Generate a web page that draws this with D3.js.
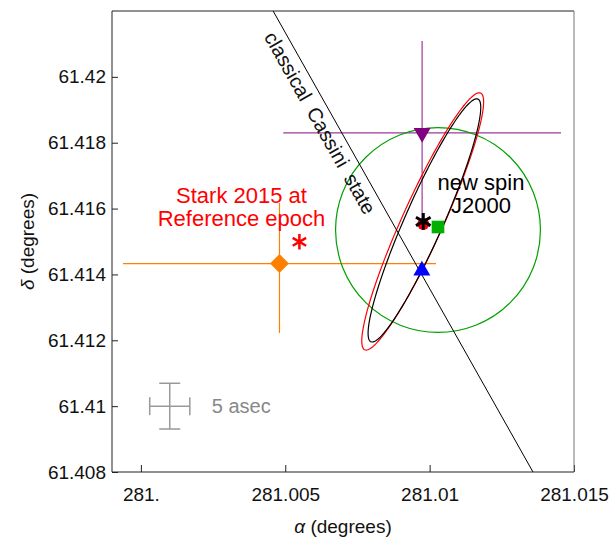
<!DOCTYPE html>
<html>
<head>
<meta charset="utf-8">
<script src="https://cdn.jsdelivr.net/npm/d3@7"></script>
<style>
    body { margin: 0; background: #fff; }
    svg { display: block; font-family: "Liberation Sans", Arial, sans-serif; }
</style>
</head>
<body>
<svg id="chart" width="611" height="543"></svg>
<script>
// axis ticks
const xTicks = [281, 281.005, 281.01, 281.015];
const xTickLabels = ["281.", "281.005", "281.01", "281.015"];
const yTicks = [61.408, 61.41, 61.412, 61.414, 61.416, 61.418, 61.42];
const yTickLabels = ["61.408", "61.41", "61.412", "61.414", "61.416", "61.418", "61.42"];

// classical Cassini state line (ra, dec end points)
const cassiniLine = [[281.00458, 61.422], [281.01358, 61.408]];

// points with error bars: [ra, dec], errors in degrees
const orangePoint = [281.0048, 61.41433];
const orangeErrRa = [0.00542, 0.00542];
const orangeErrDec = [0.00211, 0.00184]; // down, up

const purplePoint = [281.00974, 61.4183];
const purpleErrRa = [0.00481, 0.00481];
const purpleErrDec = [0.00279, 0.00279];

// single markers
const starkPoint = [281.00549, 61.41499];
const bluePoint = [281.00973, 61.41412];
const newSpinPoint = [281.00978, 61.41561];
const redDotPoint = [281.00978, 61.41553];
const greenPoint = [281.01029, 61.41544];

// green uncertainty circle: center + radius in arcsec
const greenCircle = [281.01029, 61.41535, 11.2];

// uncertainty ellipses: ra, dec, semi-major (asec), semi-minor (asec), tilt (deg)
const blackEllipse = [281.00982, 61.41564, 14.5, 2.1, 66.2];
const redEllipse = [281.00976, 61.41561, 15.4, 2.25, 65.7];

// 5 arcsec scale cross
const scaleCross = [281.001, 61.41];
const scaleHalf = 2.5 / 3600;

const W = 611, H = 543;
const mLeft = 112, mRight = 574, mTop = 11, mBottom = 472;

const svg = d3.select("#chart");

const x = d3.scaleLinear().domain([280.999, 281.015]).range([mLeft, mRight]);
const y = d3.scaleLinear().domain([61.408, 61.422]).range([mBottom, mTop]);

// pixels per arcsec (declination direction)
const pxAsec = Math.abs(y(61.41 + 1 / 3600) - y(61.41));

const plot = svg.append("g");

// axes with inward ticks
const xAxis = d3.axisBottom(x)
    .tickValues(xTicks)
    .tickFormat((d, i) => xTickLabels[i])
    .tickSizeInner(-7).tickSizeOuter(0).tickPadding(16);
const yAxis = d3.axisLeft(y)
    .tickValues(yTicks)
    .tickFormat((d, i) => yTickLabels[i])
    .tickSizeInner(-6).tickSizeOuter(0).tickPadding(6);

const gx = svg.append("g").attr("transform", `translate(0,${mBottom})`).call(xAxis);
const gy = svg.append("g").attr("transform", `translate(${mLeft},0)`).call(yAxis);
[gx, gy].forEach(g => {
    g.select(".domain").remove();
    g.selectAll("line").attr("stroke", "#222");
    g.selectAll("text").attr("font-size", 19).attr("fill", "#111").attr("font-family", "Liberation Sans, Arial, sans-serif");
});

// frame
svg.append("line").attr("x1", mLeft).attr("x2", mRight).attr("y1", mTop).attr("y2", mTop).attr("stroke", "#222");
svg.append("line").attr("x1", mRight).attr("x2", mRight).attr("y1", mTop).attr("y2", mBottom).attr("stroke", "#777");
svg.append("line").attr("x1", mLeft).attr("x2", mLeft).attr("y1", mTop).attr("y2", mBottom).attr("stroke", "#222");
svg.append("line").attr("x1", mLeft).attr("x2", mRight).attr("y1", mBottom).attr("y2", mBottom).attr("stroke", "#222");

// axis labels
svg.append("text")
    .attr("x", (mLeft + mRight) / 2).attr("y", 533)
    .attr("text-anchor", "middle").attr("font-size", 19).attr("fill", "#111")
    .html('<tspan font-style="italic">α</tspan> (degrees)');
svg.append("text")
    .attr("transform", `translate(34,${(mTop + mBottom) / 2}) rotate(-90)`)
    .attr("text-anchor", "middle").attr("font-size", 19).attr("fill", "#111")
    .html('<tspan font-style="italic">δ</tspan> (degrees)');

// error bar helper
function errorBars(p, eRa, eDec, color) {
    plot.append("line")
        .attr("x1", x(p[0] - eRa[0])).attr("x2", x(p[0] + eRa[1]))
        .attr("y1", y(p[1])).attr("y2", y(p[1]))
        .attr("stroke", color).attr("stroke-width", 1.2);
    plot.append("line")
        .attr("x1", x(p[0])).attr("x2", x(p[0]))
        .attr("y1", y(p[1] - eDec[0])).attr("y2", y(p[1] + eDec[1]))
        .attr("stroke", color).attr("stroke-width", 1.2);
}

errorBars(orangePoint, orangeErrRa, orangeErrDec, "#ff8000");
errorBars(purplePoint, purpleErrRa, purpleErrDec, "#9a3a9a");

// green circle
plot.append("circle")
    .attr("cx", x(greenCircle[0])).attr("cy", y(greenCircle[1]))
    .attr("r", greenCircle[2] * pxAsec)
    .attr("fill", "none").attr("stroke", "#00a000").attr("stroke-width", 1.2);

// ellipses drawn from parameters
function ellipsePath(e) {
    const cx = x(e[0]), cy = y(e[1]);
    const a = e[2] * pxAsec, b = e[3] * pxAsec;
    const phi = e[4] * Math.PI / 180;
    const pts = d3.range(0, 360, 2).map(deg => {
        const t = deg * Math.PI / 180;
        const u = a * Math.cos(t), v = b * Math.sin(t);
        return [cx + u * Math.cos(phi) - v * Math.sin(phi), cy - (u * Math.sin(phi) + v * Math.cos(phi))];
    });
    return d3.line().curve(d3.curveLinearClosed)(pts);
}

plot.append("path").attr("d", ellipsePath(redEllipse))
    .attr("fill", "none").attr("stroke", "#ff0000").attr("stroke-width", 1.2);
plot.append("path").attr("d", ellipsePath(blackEllipse))
    .attr("fill", "none").attr("stroke", "#000").attr("stroke-width", 1.2);

// Cassini state line
plot.append("line")
    .attr("x1", x(cassiniLine[0][0])).attr("y1", y(cassiniLine[0][1]))
    .attr("x2", x(cassiniLine[1][0])).attr("y2", y(cassiniLine[1][1]))
    .attr("stroke", "#000").attr("stroke-width", 1);

// label along the Cassini line
const x0 = x(cassiniLine[0][0]), y0 = y(cassiniLine[0][1]);
const x1 = x(cassiniLine[1][0]), y1 = y(cassiniLine[1][1]);
const ang = Math.atan2(y1 - y0, x1 - x0) * 180 / Math.PI;
const tPos = 0.228;
plot.append("text")
    .attr("transform", `translate(${x0 + tPos * (x1 - x0)},${y0 + tPos * (y1 - y0)}) rotate(${ang})`)
    .attr("y", 21)
    .attr("text-anchor", "middle").attr("font-size", 20).attr("fill", "#111")
    .attr("word-spacing", 5)
    .text("classical Cassini state");

// markers
const sym = (type, size) => d3.symbol().type(type).size(size)();

plot.append("path").attr("d", sym(d3.symbolSquare, 180))
    .attr("transform", `translate(${x(orangePoint[0])},${y(orangePoint[1])}) rotate(45)`)
    .attr("fill", "#ff8000");

plot.append("path").attr("d", sym(d3.symbolTriangle, 125))
    .attr("transform", `translate(${x(purplePoint[0])},${y(purplePoint[1])}) rotate(180)`)
    .attr("fill", "#800080");

plot.append("path").attr("d", sym(d3.symbolTriangle, 125))
    .attr("transform", `translate(${x(bluePoint[0])},${y(bluePoint[1])})`)
    .attr("fill", "#0000ff");

plot.append("path").attr("d", sym(d3.symbolSquare, 160))
    .attr("transform", `translate(${x(greenPoint[0])},${y(greenPoint[1])})`)
    .attr("fill", "#00b000");

plot.append("circle")
    .attr("cx", x(redDotPoint[0])).attr("cy", y(redDotPoint[1])).attr("r", 6)
    .attr("fill", "#ff0000");

plot.append("path").attr("d", sym(d3.symbolAsterisk, 200))
    .attr("transform", `translate(${x(newSpinPoint[0])},${y(newSpinPoint[1])})`)
    .attr("fill", "none").attr("stroke", "#000").attr("stroke-width", 3);

plot.append("path").attr("d", sym(d3.symbolAsterisk, 170))
    .attr("transform", `translate(${x(starkPoint[0])},${y(starkPoint[1])})`)
    .attr("fill", "none").attr("stroke", "#ff0000").attr("stroke-width", 2.5);

// annotations
function label(lines, ra, dec, color) {
    const t = plot.append("text")
        .attr("x", x(ra)).attr("y", y(dec))
        .attr("text-anchor", "middle").attr("font-size", 22).attr("fill", color);
    lines.forEach((s, i) => {
        t.append("tspan").attr("x", x(ra)).attr("dy", i === 0 ? 0 : 23).text(s);
    });
}
label(["Stark 2015 at", "Reference epoch"], 281.003485, 61.41616, "#ff0000");
label(["new spin", "J2000"], 281.01178, 61.41656, "#000");

// 5 asec scale cross
const sg = plot.append("g").attr("stroke", "#999").attr("stroke-width", 1.5);
const cxs = x(scaleCross[0]), cys = y(scaleCross[1]);
const hx = x(scaleCross[0] + scaleHalf) - cxs, hy = cys - y(scaleCross[1] + scaleHalf);
sg.append("line").attr("x1", cxs - hx).attr("x2", cxs + hx).attr("y1", cys).attr("y2", cys);
sg.append("line").attr("x1", cxs).attr("x2", cxs).attr("y1", cys - hy).attr("y2", cys + hy);
sg.append("line").attr("x1", cxs - hx).attr("x2", cxs - hx).attr("y1", cys - 9).attr("y2", cys + 9);
sg.append("line").attr("x1", cxs + hx).attr("x2", cxs + hx).attr("y1", cys - 9).attr("y2", cys + 9);
sg.append("line").attr("x1", cxs - 10.5).attr("x2", cxs + 10.5).attr("y1", cys - hy).attr("y2", cys - hy);
sg.append("line").attr("x1", cxs - 10.5).attr("x2", cxs + 10.5).attr("y1", cys + hy).attr("y2", cys + hy);

plot.append("text")
    .attr("x", cxs + 42).attr("y", cys + 7)
    .attr("font-size", 20).attr("fill", "#888")
    .text("5 asec");
</script>
</body>
</html>
